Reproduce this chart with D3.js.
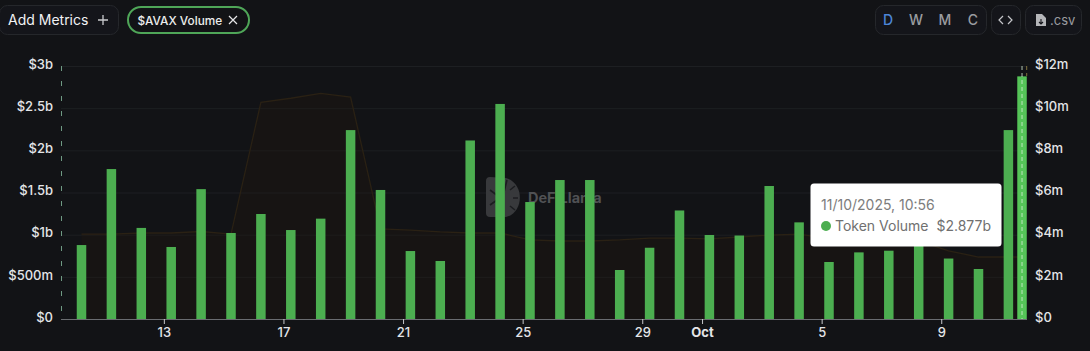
<!DOCTYPE html>
<html><head><meta charset="utf-8">
<script src="https://cdn.jsdelivr.net/npm/d3@7"></script>
<style>html,body{margin:0;padding:0;background:#121316;overflow:hidden}svg{display:block;font-family:Inter,"Open Sans",sans-serif}</style>
</head><body><svg id="c" width="1090" height="351"></svg>
<script>
const barDates = ["2025-09-10","2025-09-11","2025-09-12","2025-09-13","2025-09-14","2025-09-15","2025-09-16","2025-09-17","2025-09-18","2025-09-19","2025-09-20","2025-09-21","2025-09-22","2025-09-23","2025-09-24","2025-09-25","2025-09-26","2025-09-27","2025-09-28","2025-09-29","2025-09-30","2025-10-01","2025-10-02","2025-10-03","2025-10-04","2025-10-05","2025-10-06","2025-10-07","2025-10-08","2025-10-09","2025-10-10","2025-10-11","2025-10-11T10:56"];
const tokenVolumeB = [0.877,1.778,1.08,0.854,1.54,1.02,1.245,1.055,1.19,2.24,1.53,0.806,0.688,2.117,2.55,1.387,1.648,1.648,0.581,0.845,1.287,0.996,0.99,1.577,1.146,0.676,0.79,0.81,1.1,0.717,0.593,2.24,2.877];
const secondaryM = [4.03,4.03,4.08,4.08,4.15,4.03,10.28,10.47,10.7,10.52,4.27,4.22,4.13,4.08,4.08,3.75,3.7,3.7,3.75,3.84,3.84,3.8,3.89,3.98,4.03,3.8,3.75,3.7,3.7,3.23,2.94,2.94,2.94];
const leftTicks = [0,0.5,1,1.5,2,2.5,3];
const leftLabels = ["$0","$500m","$1b","$1.5b","$2b","$2.5b","$3b"];
const rightTicks = [0,2,4,6,8,10,12];
const rightLabels = ["$0","$2m","$4m","$6m","$8m","$10m","$12m"];
const tickDates = ["2025-09-13","2025-09-17","2025-09-21","2025-09-25","2025-09-29","2025-10-01","2025-10-05","2025-10-09"];
const tickLabels = ["13","17","21","25","29","Oct","5","9"];
const intervals = ["D","W","M","C"];
const tooltipDate = "11/10/2025, 10:56";
const tooltipName = "Token Volume";
const tooltipValue = "$2.877b";

const svg = d3.select("#c");
const utc = s => new Date(s + (s.length > 10 ? ":00Z" : "T00:00:00Z"));
const ist = s => new Date(s + "T00:00:00+05:30");
const x = d3.scaleUtc().domain([utc(barDates[0]), utc(barDates[31])]).range([81.5, 1008.4]);
const yL = d3.scaleLinear().domain([0,3]).range([319,66]);
const yR = d3.scaleLinear().domain([0,12]).range([319,66]);
const barW = 9.5;

// grid
svg.append("g").selectAll("line").data(leftTicks.slice(1)).join("line")
  .attr("x1",61).attr("x2",1027).attr("y1",d=>yL(d)+.5).attr("y2",d=>yL(d)+.5)
  .attr("stroke","#1d1f22").attr("stroke-width",1);

// watermark
const wm = svg.append("g");
wm.append("path").attr("d","M490 177 Q486 177 486 181 L486 213 Q486 217 490 217 L506 217 C524 213 525 183 506 178 Z").attr("fill","#38393c");
wm.append("path").attr("d","M500 179 L503 196 L507 180 M490 190 L498 196 M490 205 L497 200 M513 198 L518 198 M510 190 L515 186 M510 206 L515 210").attr("stroke","#1c1d20").attr("stroke-width",1.6).attr("fill","none");
wm.append("text").attr("x",528).attr("y",203).attr("fill","#505154").attr("font-size",14.5).attr("font-weight",700).text("DeFiLlama");

// secondary area
const sec = barDates.map((d,i)=>({d:utc(d),v:secondaryM[i]}));
svg.append("path").datum(sec).attr("fill","#21190f").attr("fill-opacity",.32)
  .attr("d",d3.area().x(d=>x(d.d)).y0(yR(0)).y1(d=>yR(d.v)));
svg.append("path").datum(sec).attr("fill","none").attr("stroke","#2a2114").attr("stroke-width",1.3)
  .attr("d",d3.line().x(d=>x(d.d)).y(d=>yR(d.v)));

// bars
svg.append("g").selectAll("rect").data(barDates).join("rect")
  .attr("x",d=>x(utc(d))-barW/2).attr("width",barW)
  .attr("y",(d,i)=>yL(tokenVolumeB[i])).attr("height",(d,i)=>yL(0)-yL(tokenVolumeB[i]))
  .attr("fill",(d,i)=>i===barDates.length-1?"#55c458":"#4cae50");

// crosshair on latest point
const lastX = x(utc(barDates[barDates.length-1]));
svg.append("line").attr("x1",lastX).attr("x2",lastX).attr("y1",66).attr("y2",319)
  .attr("stroke","#d8efd8").attr("stroke-dasharray","4 3").attr("stroke-opacity",.8);
svg.append("line").attr("x1",1026.7).attr("x2",1026.7).attr("y1",66).attr("y2",76)
  .attr("stroke","#c9b25a").attr("stroke-dasharray","4 3").attr("stroke-opacity",.6);

// left axis dashed
svg.append("line").attr("x1",61.5).attr("x2",61.5).attr("y1",66).attr("y2",319)
  .attr("stroke","#6f9a83").attr("stroke-dasharray","5 10");

// axes text
svg.append("g").selectAll("text").data(leftTicks).join("text")
  .attr("x",53).attr("y",d=>yL(d)-2).attr("dy","0.36em").attr("text-anchor","end")
  .attr("fill","#e4e5e8").attr("font-size",13).attr("font-weight",500).text((d,i)=>leftLabels[i]);
svg.append("g").selectAll("text").data(rightTicks).join("text")
  .attr("x",1035).attr("y",d=>yR(d)-2).attr("dy","0.36em")
  .attr("fill","#e4e5e8").attr("font-size",13).attr("font-weight",500).text((d,i)=>rightLabels[i]);

// x axis
svg.append("line").attr("x1",61).attr("x2",1027).attr("y1",319.5).attr("y2",319.5).attr("stroke","#6a6c70");
const xt = svg.append("g").selectAll("g").data(tickDates).join("g")
  .attr("transform",d=>`translate(${x(ist(d))},0)`);
xt.append("line").attr("y1",319).attr("y2",324).attr("stroke","#c8c9cc");
xt.append("text").attr("y",337).attr("text-anchor","middle").attr("fill","#e4e5e8").attr("font-size",13)
  .attr("font-weight",(d,i)=>tickLabels[i]==="Oct"?700:500).text((d,i)=>tickLabels[i]);

// header
const btn=(x0,y0,w,h,r)=>svg.append("rect").attr("x",x0+.5).attr("y",y0+.5).attr("width",w).attr("height",h).attr("rx",r).attr("fill","#14151a").attr("stroke","#25272b");
btn(-1,5,119,29,8);
svg.append("text").attr("x",8).attr("y",25).attr("fill","#f1f2f4").attr("font-size",14).text("Add Metrics");
svg.append("path").attr("d","M103 15V25M98 20H108").attr("stroke","#c9cacd").attr("stroke-width",1.3);
svg.append("rect").attr("x",128).attr("y",7).attr("width",121).attr("height",26).attr("rx",13).attr("fill","#121316").attr("stroke","#4fa658").attr("stroke-width",2);
svg.append("text").attr("x",137.5).attr("y",24.5).attr("fill","#eceded").attr("font-size",11.8).attr("font-weight",500).text("$AVAX Volume");
svg.append("path").attr("d","M229 16L237 24M237 16L229 24").attr("stroke","#e6e6e8").attr("stroke-width",1.2);

btn(875,5,111,29,8);
const ivX=[888,916,945,973];
svg.append("g").selectAll("text").data(intervals).join("text")
  .attr("x",(d,i)=>ivX[i]).attr("y",25).attr("text-anchor","middle").attr("font-size",14).attr("font-weight",500)
  .attr("fill",(d,i)=>i===0?"#4c86d8":"#9a9ca0").text(d=>d);
btn(991,5,29,29,8);
svg.append("path").attr("d","M1003 16L999 20L1003 24M1008 16L1012 20L1008 24").attr("stroke","#c5c6c9").attr("stroke-width",1.2).attr("fill","none");
btn(1025,5,56,29,8);
svg.append("path").attr("d","M1036 14H1042L1046 18V26H1036Z").attr("fill","#b5b6b9");
svg.append("path").attr("d","M1041 19V24M1039 22L1041 24L1043 22").attr("stroke","#14151a").attr("stroke-width",1.1).attr("fill","none");
svg.append("text").attr("x",1050).attr("y",25).attr("fill","#9a9ca0").attr("font-size",13).text(".csv");

// tooltip
svg.append("rect").attr("x",810.5).attr("y",183.5).attr("width",191).attr("height",63).attr("rx",3.5).attr("fill","#ffffff");
svg.append("text").attr("x",821).attr("y",210).attr("fill","#7d7d7d").attr("font-size",14).text(tooltipDate);
svg.append("circle").attr("cx",826).attr("cy",226).attr("r",5).attr("fill","#4cae50");
svg.append("text").attr("x",835).attr("y",231).attr("fill","#707070").attr("font-size",14).text(tooltipName);
svg.append("text").attr("x",991).attr("y",231).attr("text-anchor","end").attr("fill","#707070").attr("font-size",14).text(tooltipValue);
</script></body></html>
